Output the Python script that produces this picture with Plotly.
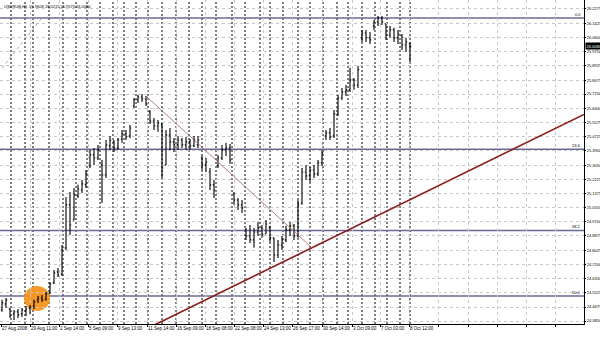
import plotly.graph_objects as go

# ---------------- data (USDRUB, H1) ----------------
opens = [24.450, 24.486, 24.456, 24.427, 24.439, 24.427, 24.445, 24.462, 24.474, 24.510,
         24.521, 24.515, 24.551, 24.610, 24.675, 24.663, 24.817, 25.071, 24.982, 25.124,
         25.159, 25.189, 25.301, 25.366, 25.348, 25.307, 25.248, 25.419, 25.443, 25.407,
         25.460, 25.490, 25.478, 25.655, 25.691, 25.708, 25.696, 25.620, 25.566, 25.537,
         25.543, 25.307, 25.484, 25.443, 25.425, 25.454, 25.425, 25.443, 25.419, 25.425,
         25.348, 25.307, 25.265, 25.189, 25.301, 25.348, 25.395, 25.407, 25.135, 25.100,
         25.071, 24.923, 24.887, 24.864, 24.911, 24.935, 24.899, 24.935, 24.876, 24.775,
         24.834, 24.864, 24.923, 24.947, 24.887, 25.082, 25.265, 25.242, 25.277, 25.254,
         25.319, 25.478, 25.496, 25.478, 25.608, 25.702, 25.738, 25.750, 25.809, 25.779,
         26.057, 26.086, 26.057, 26.127, 26.151, 26.175, 26.139, 26.074, 26.104, 26.057,
         26.068, 26.015, 26.021]
highs = [24.510, 24.521, 24.462, 24.450, 24.456, 24.462, 24.474, 24.480, 24.510, 24.533,
         24.539, 24.557, 24.616, 24.687, 24.698, 24.834, 25.118, 25.147, 25.171, 25.189,
         25.218, 25.277, 25.395, 25.407, 25.425, 25.336, 25.454, 25.478, 25.454, 25.466,
         25.513, 25.513, 25.543, 25.702, 25.720, 25.726, 25.714, 25.631, 25.584, 25.572,
         25.555, 25.513, 25.525, 25.466, 25.478, 25.466, 25.472, 25.460, 25.478, 25.478,
         25.360, 25.348, 25.289, 25.218, 25.366, 25.425, 25.437, 25.431, 25.147, 25.112,
         25.100, 24.935, 24.952, 24.935, 24.970, 24.952, 24.982, 24.947, 24.876, 24.864,
         24.887, 24.947, 24.970, 24.958, 25.100, 25.289, 25.307, 25.295, 25.307, 25.336,
         25.395, 25.513, 25.525, 25.631, 25.720, 25.761, 25.779, 25.880, 25.820, 25.891,
         26.104, 26.104, 26.092, 26.163, 26.186, 26.186, 26.139, 26.127, 26.116, 26.104,
         26.080, 26.057, 26.033]
lows = [24.439, 24.462, 24.403, 24.391, 24.403, 24.409, 24.415, 24.427, 24.456, 24.492,
        24.498, 24.504, 24.545, 24.604, 24.645, 24.651, 24.805, 24.893, 24.982, 25.112,
        25.141, 25.171, 25.289, 25.307, 25.336, 25.082, 25.230, 25.395, 25.383, 25.395,
        25.437, 25.454, 25.466, 25.643, 25.673, 25.679, 25.655, 25.549, 25.513, 25.502,
        25.230, 25.307, 25.395, 25.383, 25.395, 25.407, 25.395, 25.395, 25.413, 25.407,
        25.277, 25.265, 25.159, 25.112, 25.289, 25.336, 25.360, 25.313, 25.071, 25.041,
        25.023, 24.864, 24.846, 24.817, 24.887, 24.876, 24.899, 24.852, 24.734, 24.757,
        24.805, 24.852, 24.887, 24.864, 24.876, 25.071, 25.218, 25.206, 25.230, 25.242,
        25.301, 25.454, 25.454, 25.466, 25.596, 25.691, 25.714, 25.738, 25.750, 25.761,
        26.033, 26.033, 26.021, 26.104, 26.127, 26.133, 26.045, 26.057, 26.033, 26.021,
        25.986, 25.974, 25.915]
closes = [24.492, 24.510, 24.415, 24.439, 24.421, 24.450, 24.456, 24.468, 24.498, 24.521,
          24.510, 24.545, 24.604, 24.669, 24.657, 24.805, 25.071, 24.952, 25.130, 25.165,
          25.195, 25.254, 25.366, 25.348, 25.395, 25.248, 25.425, 25.454, 25.407, 25.454,
          25.490, 25.472, 25.525, 25.691, 25.708, 25.696, 25.667, 25.566, 25.537, 25.555,
          25.289, 25.484, 25.443, 25.425, 25.454, 25.425, 25.443, 25.419, 25.454, 25.454,
          25.307, 25.324, 25.189, 25.159, 25.348, 25.395, 25.407, 25.336, 25.100, 25.071,
          25.053, 24.887, 24.864, 24.911, 24.935, 24.899, 24.958, 24.876, 24.775, 24.834,
          24.864, 24.923, 24.947, 24.887, 25.071, 25.265, 25.242, 25.277, 25.254, 25.319,
          25.378, 25.496, 25.472, 25.608, 25.702, 25.738, 25.750, 25.809, 25.779, 25.868,
          26.086, 26.057, 26.045, 26.151, 26.175, 26.151, 26.074, 26.104, 26.057, 26.080,
          26.015, 26.033, 26.008]
bars = list(range(len(closes)))

# time labels (bar positions) and price ticks
time_tick_pos = [-0.25, 7, 14.25, 21.5, 28.75, 36.25, 43.5, 50.75, 58, 65.25, 72.5, 80, 87.5, 94.5, 101.75,
                 109, 116.5, 123.75, 131, 138.25]
time_tick_text = ["27 Aug 2008", "29 Aug 11:00", "2 Sep 14:00", "5 Sep 09:00", "9 Sep 13:00",
                  "11 Sep 14:00", "16 Sep 09:00", "18 Sep 08:00", "22 Sep 08:00", "24 Sep 13:00",
                  "26 Sep 17:00", "30 Sep 14:00", "3 Oct 09:00", "7 Oct 03:00", "8 Oct 12:00",
                  "", "", "", "", ""]
price_ticks = [26.2275, 26.1425, 26.0600, 25.9750, 25.8925, 25.8075, 25.7250, 25.6400, 25.5575,
               25.4725, 25.3900, 25.3050, 25.2225, 25.1375, 25.0550, 24.9700, 24.8875, 24.8025,
               24.7200, 24.6350, 24.5525, 24.4675, 24.3850]

# daily period separators (bar positions)
day_starts = [2.25, 5.75, 7.75, 11.75, 15.25, 18.5, 21.25, 24.5, 27.75, 30.5, 33.5, 36.5,
              40, 43.5, 46.75, 50, 53.5, 57.5, 60.75, 64.5, 67, 70.25, 74, 77, 80.25,
              83.75, 86.5, 90, 93.25, 96.25, 99.5, 102]

# Fibonacci levels
fib_prices = [26.174, 25.399, 24.920, 24.533]
fib_labels = ["0.0", "23.6", "38.2", "50.0"]

# drawings (bar position, price)
trend_up = [(36.5, 24.343), (145.5, 25.605)]
trend_down = [(36.25, 25.708), (77.5, 24.817)]
fib_diag = [(0, 25.879), (10, 26.175)]
circle_box = [(5.5, 24.592), (12, 24.445)]

title_text = "USDRUB,H1  25.9608 26.0215 25.9575 26.0080"
last_price = 26.0080

X_RANGE = [-0.5, 145.5]
Y_RANGE = [24.3674, 26.2806]
FONT = "Liberation Sans, Arial, sans-serif"
FS = 4

fig = go.Figure()

fig.add_trace(go.Ohlc(
    x=bars, open=opens, high=highs, low=lows, close=closes,
    increasing=dict(line=dict(color="black", width=1.1)),
    decreasing=dict(line=dict(color="black", width=1.1)),
    tickwidth=0.3, hoverinfo="skip", showlegend=False,
))

fig.add_trace(go.Scatter(x=[p[0] for p in trend_up], y=[p[1] for p in trend_up], mode="lines",
                         line=dict(color="#8b1a1a", width=1.6), hoverinfo="skip", showlegend=False))
fig.add_trace(go.Scatter(x=[p[0] for p in trend_down], y=[p[1] for p in trend_down], mode="lines",
                         line=dict(color="#a06060", width=0.8), hoverinfo="skip", showlegend=False))
fig.add_trace(go.Scatter(x=[p[0] for p in fib_diag], y=[p[1] for p in fib_diag], mode="lines",
                         line=dict(color="#909090", width=0.8, dash="dot"), hoverinfo="skip", showlegend=False))

shapes = []
# orange circle
shapes.append(dict(type="circle", xref="x", yref="y", layer="below",
                   x0=circle_box[0][0], x1=circle_box[1][0], y0=circle_box[1][1], y1=circle_box[0][1],
                   fillcolor="#f7941d", line=dict(color="#f7941d", width=0), opacity=0.95))
# separators
for d in day_starts:
    shapes.append(dict(type="line", xref="x", yref="paper", x0=d, x1=d, y0=0, y1=1, layer="below",
                       line=dict(color="black", width=1, dash="2px,2px")))
# fib levels
for lv in fib_prices:
    shapes.append(dict(type="line", xref="paper", yref="y", x0=0, x1=1, y0=lv, y1=lv, layer="below",
                       line=dict(color="#6a6a96", width=1.5)))

annotations = []
for lv, lab in zip(fib_prices, fib_labels):
    annotations.append(dict(xref="paper", yref="y", x=1, y=lv, text=lab, showarrow=False,
                            xanchor="right", yanchor="bottom", xshift=-1, yshift=-1,
                            font=dict(family=FONT, size=FS, color="black")))
annotations.append(dict(xref="paper", yref="paper", x=0, y=1, text=title_text, showarrow=False,
                        xanchor="left", yanchor="top", xshift=2, yshift=-2,
                        font=dict(family=FONT, size=FS, color="black")))
annotations.append(dict(xref="paper", yref="y", x=1, y=last_price, text=f"{last_price:.4f}",
                        showarrow=False, xanchor="left", yanchor="middle", xshift=1,
                        bgcolor="black", borderpad=0.5,
                        font=dict(family=FONT, size=FS, color="white")))

fig.update_layout(
    width=600, height=338,
    margin=dict(l=0, r=16, t=0, b=14, autoexpand=False),
    paper_bgcolor="white", plot_bgcolor="white",
    shapes=shapes, annotations=annotations,
    showlegend=False,
    xaxis=dict(range=X_RANGE, rangeslider=dict(visible=False), tickmode="array",
               tickvals=time_tick_pos, ticktext=time_tick_text, tickangle=0, automargin=False,
               ticks="outside", ticklen=2, tickcolor="black",
               ticklabelposition="outside right",
               tickfont=dict(family=FONT, size=FS + 0.5, color="black"),
               showgrid=True, gridcolor="#c8c8c8", griddash="dot", gridwidth=1,
               showline=True, linecolor="black", linewidth=1, zeroline=False, fixedrange=True),
    yaxis=dict(range=Y_RANGE, side="right", tickmode="array", tickvals=price_ticks,
               ticktext=[f"{v:.4f}" for v in price_ticks], automargin=False,
               ticks="outside", ticklen=1, tickcolor="black",
               tickfont=dict(family=FONT, size=FS, color="black"),
               showgrid=True, gridcolor="#c8c8c8", griddash="dot", gridwidth=1,
               showline=True, linecolor="black", linewidth=1, zeroline=False, fixedrange=True),
)

fig.write_html("out.html")
